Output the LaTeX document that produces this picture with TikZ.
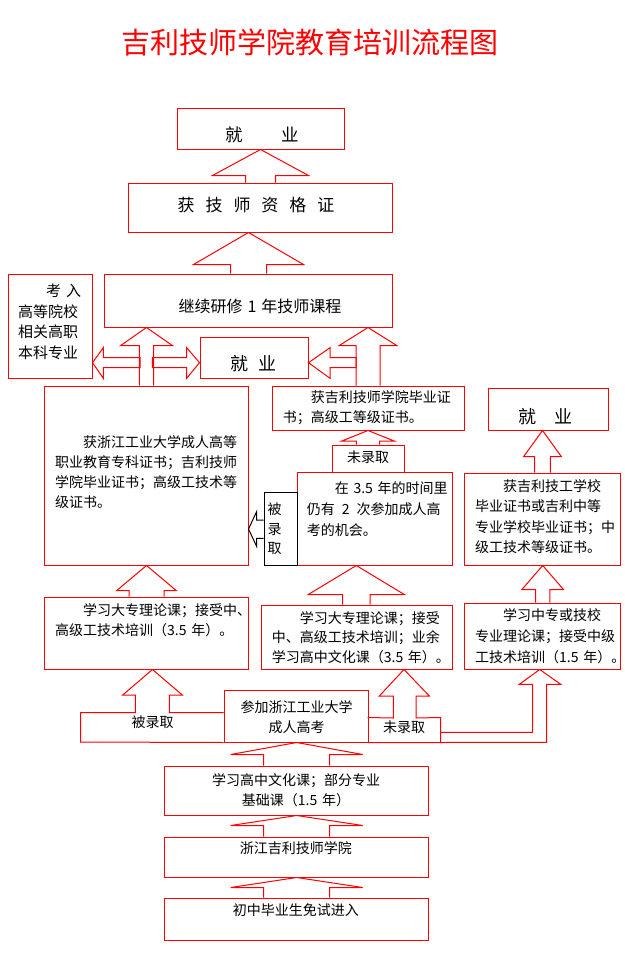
\documentclass[tikz,border=0pt]{standalone}
\usepackage{fontspec}
\setmainfont{Noto Sans CJK SC}
\usetikzlibrary{positioning, calc}
\tikzstyle{box} = [rectangle, draw=red, line width=1pt, inner sep=0pt]
\tikzstyle{blk} = [draw=red, line width=1pt]
\tikzstyle{txt} = [inner sep=0pt, font=\fontsize{14}{20.5}\selectfont, align=left, text width=190pt, anchor=base west]
\tikzstyle{lbl} = [inner sep=0pt, anchor=base]
\newcommand{\blkup}[6]{%
  \pgfmathsetmacro{\arA}{#3-#4}\pgfmathsetmacro{\arB}{#3+#4}%
  \pgfmathsetmacro{\arC}{#3-#5}\pgfmathsetmacro{\arD}{#3+#5}%
  \draw[blk] (\arA,0 |- #1.north) -- ($(\arA,0 |- #2.south)+(0,#6)$)
    -- ($(\arC,0 |- #2.south)+(0,#6)$) -- (#3,0 |- #2.south)
    -- ($(\arD,0 |- #2.south)+(0,#6)$) -- ($(\arB,0 |- #2.south)+(0,#6)$)
    -- (\arB,0 |- #1.north);}
\begin{document}
\begin{tikzpicture}[x=1pt, y=-1pt]
	\path[use as bounding box, fill=white] (0,0) rectangle (624,958);
	\node[lbl, text=red, font=\fontsize{29}{29}\selectfont] (title) at (310,54) {吉利技师学院教育培训流程图};

	% boxes
	\node[box, minimum width=167pt, minimum height=41pt] (jyTop) at (260.5,128.5) {};
	\node[box, minimum width=264pt, minimum height=49pt] (zgz) at (260,207.5) {};
	\node[box, minimum width=288pt, minimum height=53pt] (jxyx) at (248,300.5) {};
	\node[box, minimum width=84pt, minimum height=104pt] (kr) at (50,326) {};
	\node[box, minimum width=108pt, minimum height=41pt] (jyMid) at (254,357.5) {};
	\node[box, minimum width=204pt, minimum height=179pt] (hzj) at (146,475.5) {};
	\node[box, minimum width=192pt, minimum height=44pt] (hjl) at (368,408) {};
	\node[box, minimum width=120pt, minimum height=42pt] (jyRight) at (548,409) {};
	\node[box, minimum width=72pt, minimum height=27pt] (wlqTop) at (368,458.5) {};
	\node[box, minimum width=155pt, minimum height=93pt] (zai) at (374.5,518.5) {};
	\node[box, minimum width=156pt, minimum height=92pt] (jgx) at (542,519) {};
	\node[box, minimum width=204pt, minimum height=72pt] (xxL) at (146,633) {};
	\node[box, minimum width=191pt, minimum height=64pt] (xxM) at (356.5,637) {};
	\node[box, minimum width=156pt, minimum height=66pt] (xxR) at (542,636) {};
	\node[box, minimum width=144pt, minimum height=52pt] (cj) at (296,716) {};
	\node[box, draw=none, minimum width=72pt, minimum height=24pt] (wlqBot) at (404,730) {};
	\node[box, minimum width=264pt, minimum height=49pt] (xxgz) at (296,790.5) {};
	\node[box, minimum width=264pt, minimum height=40pt] (zjjl) at (296,857) {};
	\node[box, minimum width=264pt, minimum height=42pt] (cz) at (296,919) {};
	\node[box, draw=black, fill=white, minimum width=33pt, minimum height=73pt] (bei) at (280.5,528.5) {};

	% texts
	\node[lbl, font=\fontsize{17.5}{17.5}\selectfont] (jyTop-t) at (262,141) {就\hspace{39pt}业};
	\node[lbl, font=\fontsize{17}{17}\selectfont] (zgz-t) at (256,211.5) {获\hspace{11pt}技\hspace{11pt}师\hspace{11pt}资\hspace{11pt}格\hspace{11pt}证};
	\node[lbl, font=\fontsize{16}{16}\selectfont] (jxyx-t) at (260,312) {继续研修\hspace{5pt}1\hspace{5pt}年技师课程};
	\node[txt, font=\fontsize{15}{20.5}\selectfont, text width=70pt] (kr-t) at (18,296.5) {\hspace*{28pt}考\hspace{5pt}入\\高等院校\\相关高职\\本科专业};
	\node[lbl, font=\fontsize{18}{18}\selectfont] (jyMid-t) at (253.3,370) {就\hspace{10pt}业};
	\node[txt, font=\fontsize{14}{20.3}\selectfont] (hzj-t) at (55,447) {\hspace*{28pt}获浙江工业大学成人高等\\职业教育专科证书；吉利技师\\学院毕业证书；高级工技术等\\级证书。};
	\node[txt, font=\fontsize{14}{20}\selectfont] (hjl-t) at (282.7,402) {\hspace*{28pt}获吉利技师学院毕业证\\书；高级工等级证书。};
	\node[lbl, font=\fontsize{18}{18}\selectfont] (jyRight-t) at (545.8,423) {就\hspace{18pt}业};
	\node[lbl, font=\fontsize{14}{14}\selectfont] (wlqTop-t) at (368,462) {未录取};
	\node[txt, font=\fontsize{14}{20.8}\selectfont] (zai-t) at (306.7,493.7) {\hspace*{28pt}在 3.5 年的时间里\\仍有\hspace{7pt}2\hspace{7pt}次参加成人高\\考的机会。};
	\node[txt, font=\fontsize{14}{19.5}\selectfont, text width=14pt, align=center, anchor=base] (bei-t) at (274.7,514.7) {被\\录\\取};
	\node[txt, font=\fontsize{14}{20.5}\selectfont] (jgx-t) at (475,491.1) {\hspace*{28pt}获吉利技工学校\\毕业证书或吉利中等\\专业学校毕业证书；中\\级工技术等级证书。};
	\node[txt, font=\fontsize{14}{20}\selectfont] (xxL-t) at (55,615.4) {\hspace*{28pt}学习大专理论课；接受中、\\高级工技术培训（3.5 年）。};
	\node[txt, font=\fontsize{14}{19.5}\selectfont] (xxM-t) at (271.7,623.1) {\hspace*{28pt}学习大专理论课；接受\\中、高级工技术培训；业余\\学习高中文化课（3.5 年）。};
	\node[txt, font=\fontsize{14}{20.8}\selectfont] (xxR-t) at (475,620.4) {\hspace*{28pt}学习中专或技校\\专业理论课；接受中级\\工技术培训（1.5 年）。};
	\node[txt, font=\fontsize{14}{20.6}\selectfont, text width=140pt, align=center, anchor=base] (cj-t) at (296.7,712.1) {参加浙江工业大学\\成人高考};
	\node[lbl, font=\fontsize{14}{14}\selectfont] (wlqBot-t) at (404,732.4) {未录取};
	\node[lbl, font=\fontsize{14}{14}\selectfont] (bl-t) at (152.5,727.1) {被录取};
	\node[txt, font=\fontsize{14}{20}\selectfont, text width=250pt, align=center, anchor=base] (xxgz-t) at (296,785.4) {学习高中文化课；部分专业\\基础课（1.5 年）};
	\node[lbl, font=\fontsize{14}{14}\selectfont] (zjjl-t) at (295.8,853.7) {浙江吉利技师学院};
	\node[lbl, font=\fontsize{14}{14}\selectfont] (cz-t) at (295.8,915.4) {初中毕业生免试进入};

	% block arrows upward
	\blkup{zgz}{jyTop}{260.5}{15}{48}{26}
	\blkup{jxyx}{zgz}{248.5}{18}{55}{32}
	\blkup{hzj}{jxyx}{146.5}{7.2}{25.8}{18}
	\blkup{hjl}{jxyx}{368}{12}{28.7}{18}
	\blkup{wlqTop}{hjl}{368}{11.7}{26.7}{10.7}
	\blkup{jgx}{jyRight}{542.5}{7.8}{18.8}{26}
	\blkup{xxM}{zai}{356.3}{13.8}{48}{29}
	\blkup{xxL}{hzj}{146.5}{17.5}{29.7}{25}
	\blkup{xxR}{jgx}{542.7}{7.2}{20.8}{24}
	\blkup{xxgz}{cj}{296.7}{33}{66}{12}
	\blkup{zjjl}{xxgz}{296.7}{33}{66}{10}
	\blkup{cz}{zjjl}{296.7}{33}{66}{10}

	% sideways arrows
	\draw[blk] (140,357.7) -- (103.3,357.7) -- (103.3,347.7) -- (kr.east |- 0,362.7)
		-- (103.3,378.3) -- (103.3,367.7) -- (140,367.7) -- cycle;
	\draw[blk] (152.3,357.7) -- (186.7,357.7) -- (186.7,347.7) -- (jyMid.west |- 0,362.7)
		-- (186.7,378.3) -- (186.7,367.7) -- (152.3,367.7) -- cycle;
	\draw[blk] (356,357.7) -- (330,357.7) -- (330,347.7) -- (jyMid.east |- 0,362.7)
		-- (330,378.3) -- (330,367.7) -- (356,367.7) -- cycle;
	\draw[line width=1pt] (bei.west |- 0,520) -- (256.7,520) -- (256.7,511.5) -- (hzj.east |- 0,529)
		-- (256.7,546.5) -- (256.7,538.3) -- (bei.west |- 0,538.3);

	% admitted / not admitted
	\draw[blk] (cj.west |- 0,712.7) -- (169.3,712.7) -- (169.3,695) -- (182.3,695)
		-- (152.5,0 |- xxL.south) -- (122.7,695) -- (135.3,695) -- (135.3,712.7)
		-- (80.7,712.7) -- (80.7,742) -- (cj.south west);
	\draw[blk] (wlqBot.north west) -- (393.3,718) -- (393.3,696) -- (379.3,696)
		-- (404,0 |- xxM.south) -- (429.3,696) -- (416,696) -- (416,718)
		-- (wlqBot.north east) -- (wlqBot.south east) -- (wlqBot.south west);
	\draw[blk] (wlqBot.east |- 0,732.3) -- (532.7,732.3) -- (532.7,684.3) -- (519.3,684.3)
		-- (539.7,0 |- xxR.south) -- (560.7,684.3) -- (546.7,684.3) -- (546.7,742.3)
		-- (wlqBot.south east);
\end{tikzpicture}
\end{document}
